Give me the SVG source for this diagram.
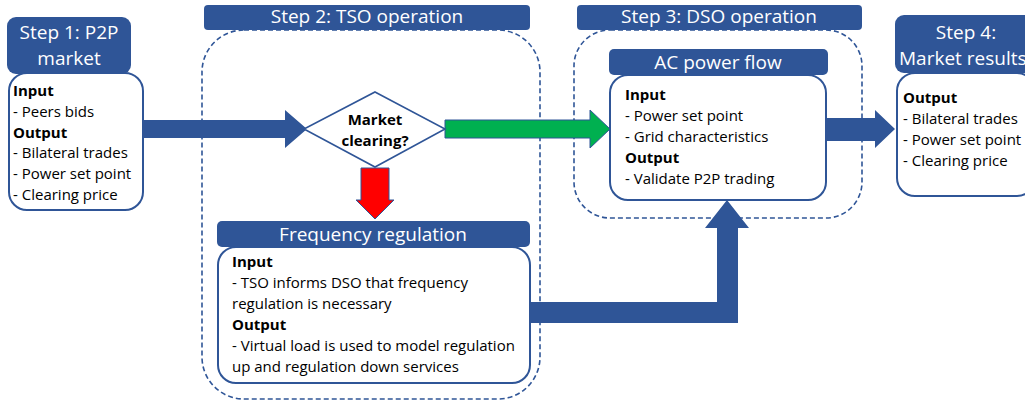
<svg xmlns="http://www.w3.org/2000/svg" width="1025" height="405" viewBox="0 0 1025 405">
<style>
.hdr{fill:#2F5597;}
.htxt{fill:#fff;font-family:"Open Sans","Liberation Sans",sans-serif;font-size:19px;}
.mid{text-anchor:middle;}
.box{fill:#fff;stroke:#2F5597;stroke-width:2;}
.dash{fill:none;stroke:#2F5597;stroke-width:1.6;stroke-dasharray:5,3;}
.t{font-family:"Open Sans","Liberation Sans",sans-serif;font-size:15px;fill:#000;}
.b{font-weight:bold;}
.arr{fill:#2F5597;}
</style>
<rect width="1025" height="405" fill="#fff"/>
<g id="step2-region"><rect class="dash" x="202" y="30" width="338" height="369" rx="42"/></g>
<g id="step3-region"><rect class="dash" x="574" y="30" width="288" height="188" rx="36"/></g>
<g id="connectors">
<polygon class="arr" points="143,120 285,120 285,110 307,129 285,148 285,138 143,138"/>
<polygon fill="#00B050" stroke="#2F5597" stroke-width="1" points="445,120 590,120 590,110 610,129 590,148 590,138 445,138"/>
<polygon fill="#FF0000" stroke="#2F5597" stroke-width="1" points="361,168 389,168 389,200 394,200 375,219 356,200 361,200"/>
<polygon class="arr" points="826,118 875,118 875,110 895,129 875,148 875,141 826,141"/>
<polygon class="arr" points="530,302 717,302 717,228 705,228 727,200 749,228 738,228 738,323 530,323"/>
</g>
<g id="step1">
<rect class="hdr" x="7" y="17" width="124" height="57" rx="9"/>
<text class="htxt mid" x="69" y="38.5">Step 1: P2P</text>
<text class="htxt mid" x="69" y="64.5">market</text>
<rect class="box" x="9" y="73" width="134" height="137" rx="18"/>
<text class="t" x="13" y="96"><tspan class="b">Input</tspan><tspan x="13" dy="20.8">- Peers bids</tspan><tspan x="13" dy="20.8" class="b">Output</tspan><tspan x="13" dy="20.8">- Bilateral trades</tspan><tspan x="13" dy="20.8">- Power set point</tspan><tspan x="13" dy="20.8">- Clearing price</tspan></text>
</g>
<g id="step2">
<rect class="hdr" x="204" y="5" width="326" height="25" rx="4"/>
<text class="htxt mid" x="367" y="23">Step 2: TSO operation</text>
</g>
<g id="market-clearing">
<polygon fill="#fff" stroke="#2F5597" stroke-width="1.6" points="375,92 445,129 375,167 304,129"/>
<text class="t b mid" x="375" y="125">Market</text>
<text class="t b mid" x="375" y="146">clearing?</text>
</g>
<g id="frequency-regulation">
<rect class="hdr" x="217" y="221" width="313" height="26" rx="5"/>
<text class="htxt mid" x="373" y="241">Frequency regulation</text>
<rect class="box" x="218" y="247" width="312" height="136" rx="18"/>
<text class="t" x="232" y="267"><tspan class="b">Input</tspan><tspan x="232" dy="21">- TSO informs DSO that frequency</tspan><tspan x="232" dy="21">regulation is necessary</tspan><tspan x="232" dy="21" class="b">Output</tspan><tspan x="232" dy="21">- Virtual load is used to model regulation</tspan><tspan x="232" dy="21">up and regulation down services</tspan></text>
</g>
<g id="step3">
<rect class="hdr" x="577" y="5" width="285" height="25" rx="4"/>
<text class="htxt mid" x="719" y="23">Step 3: DSO operation</text>
</g>
<g id="ac-power-flow">
<rect class="hdr" x="609" y="49" width="219" height="26" rx="5"/>
<text class="htxt mid" x="718" y="69">AC power flow</text>
<rect class="box" x="610" y="75" width="216" height="125" rx="18"/>
<text class="t" x="625" y="100"><tspan class="b">Input</tspan><tspan x="625" dy="21">- Power set point</tspan><tspan x="625" dy="21">- Grid characteristics</tspan><tspan x="625" dy="21" class="b">Output</tspan><tspan x="625" dy="21">- Validate P2P trading</tspan></text>
</g>
<g id="step4">
<rect class="hdr" x="895" y="15" width="140" height="58" rx="9"/>
<text class="htxt mid" x="966" y="38.5">Step 4:</text>
<text class="htxt" x="899" y="64.5">Market results</text>
<rect class="box" x="897" y="73" width="138" height="123" rx="18"/>
<text class="t" x="903" y="103"><tspan class="b">Output</tspan><tspan x="903" dy="21">- Bilateral trades</tspan><tspan x="903" dy="21">- Power set point</tspan><tspan x="903" dy="21">- Clearing price</tspan></text>
</g>
</svg>
